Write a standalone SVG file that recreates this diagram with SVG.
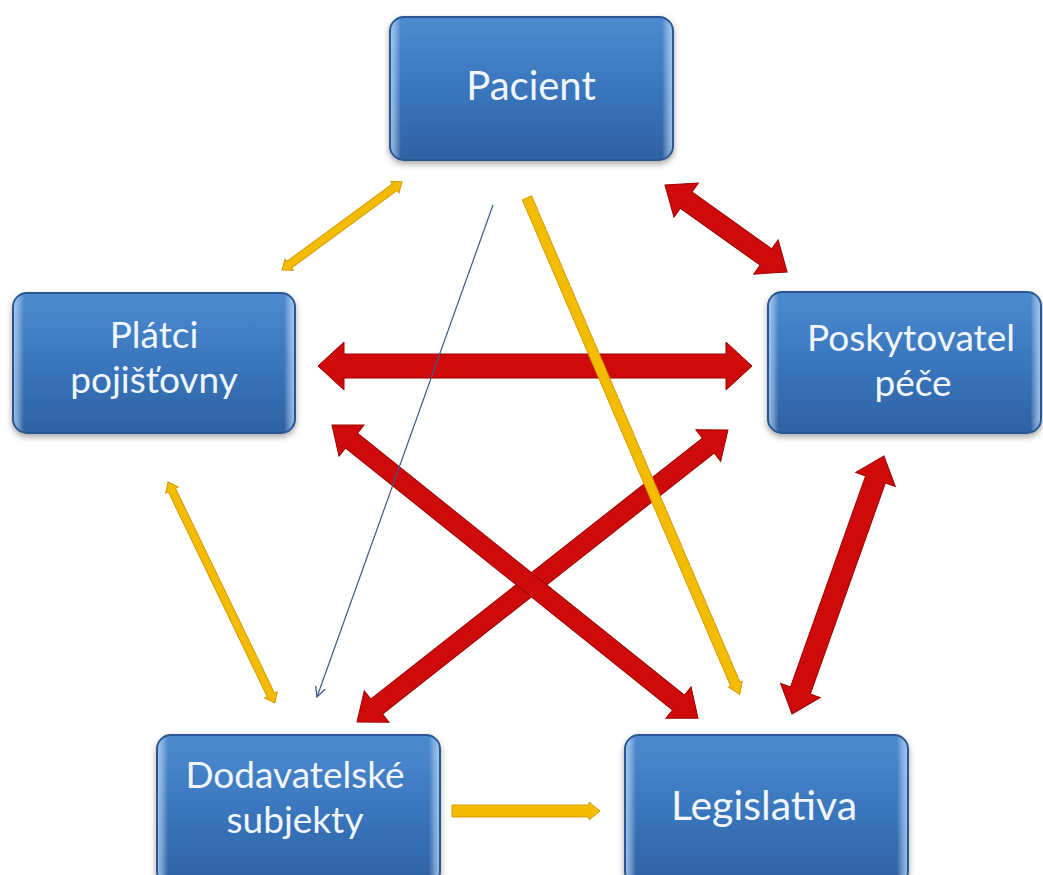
<svg xmlns="http://www.w3.org/2000/svg" width="1043" height="875" viewBox="0 0 1043 875">
<defs>
<linearGradient id="gBox" x1="0" y1="0" x2="0" y2="1">
<stop offset="0" stop-color="#4d8bcf"/>
<stop offset="0.5" stop-color="#3a76bd"/>
<stop offset="1" stop-color="#2e62a3"/>
</linearGradient>
<linearGradient id="gBevel" x1="0" y1="0" x2="1" y2="0">
<stop offset="0" stop-color="#bfe0ff" stop-opacity="0.7"/>
<stop offset="0.035" stop-color="#ffffff" stop-opacity="0"/>
<stop offset="0.965" stop-color="#ffffff" stop-opacity="0"/>
<stop offset="1" stop-color="#bfe0ff" stop-opacity="0.7"/>
</linearGradient>
<filter id="shadow" x="-10%" y="-10%" width="120%" height="130%">
<feDropShadow dx="0" dy="3" stdDeviation="3" flood-color="#000" flood-opacity="0.35"/>
</filter>
<marker id="blueHead" viewBox="0 0 12 12" refX="11" refY="6" markerWidth="12" markerHeight="12" markerUnits="userSpaceOnUse" orient="auto">
<path d="M1,1 L11,6 L1,11" fill="none" stroke="#3b5a88" stroke-width="1.3"/>
</marker>
</defs>
<style>
.box{fill:url(#gBox);stroke:#2a5791;stroke-width:2;filter:url(#shadow)}
.bev{fill:url(#gBevel);stroke:none}
.lbl{font-family:Lato,"Liberation Sans",sans-serif;font-size:40px;fill:#f1f6fc;text-anchor:middle}
.two{font-size:37px}
.red{fill:#cf0a0a;stroke:#9c0000;stroke-width:1}
.yel{fill:#f4bc00;stroke:#d49a00;stroke-width:1}
.blue{stroke:#3b5a88;stroke-width:1.2;fill:none}
</style>
<rect width="1043" height="875" fill="#ffffff"/>
<g id="connectors">
<path class="red" transform="translate(665,185) rotate(35.5)" d="M0,0 L26,-21 L26,-10 L124,-10 L124,-21 L150,0 L124,21 L124,10 L26,10 L26,21 Z"/>
<path class="yel" transform="translate(282,270) rotate(-36.3)" d="M0,0 L9,-7 L9,-4 L140,-4 L140,-7 L149,0 L140,7 L140,4 L9,4 L9,7 Z"/>
<path class="yel" transform="translate(168,482) rotate(64.2)" d="M0,0 L9,-7 L9,-4 L236.5,-4 L236.5,-7 L245.5,0 L236.5,7 L236.5,4 L9,4 L9,7 Z"/>
<path class="red" transform="translate(792,714) rotate(-70.4)" d="M0,0 L25,-21 L25,-10.5 L249,-10.5 L249,-21 L274,0 L249,21 L249,10.5 L25,10.5 L25,21 Z"/>
<path class="red" transform="translate(357,722) rotate(-38.2)" d="M0,0 L25,-20 L25,-9.5 L447,-9.5 L447,-20 L472,0 L447,20 L447,9.5 L25,9.5 L25,20 Z"/>
<path class="red" transform="translate(332,425) rotate(38.7)" d="M0,0 L25,-20 L25,-9.5 L444,-9.5 L444,-20 L469,0 L444,20 L444,9.5 L25,9.5 L25,20 Z"/>
<path class="red" transform="translate(318,366)" d="M0,0 L26,-24 L26,-12 L408,-12 L408,-24 L434,0 L408,24 L408,12 L26,12 L26,24 Z"/>
<line class="blue" x1="493" y1="205" x2="317" y2="697" marker-end="url(#blueHead)"/>
<path class="yel" transform="translate(527,198) rotate(66.8)" d="M0,-5 L529,-5 L529,-7.5 L540,0 L529,7.5 L529,5 L0,5 Z"/>
<path class="yel" transform="translate(452,811)" d="M0,-6 L137,-6 L137,-9 L148,0 L137,9 L137,6 L0,6 Z"/>
</g>
<g id="node-pacient">
<rect class="box" x="390" y="17" width="283" height="143" rx="14"/>
<rect class="bev" x="391" y="18" width="281" height="141" rx="13"/>
<text class="lbl" x="531" y="100">Pacient</text>
</g>
<g id="node-platci">
<rect class="box" x="13" y="293" width="282" height="140" rx="14"/>
<rect class="bev" x="14" y="294" width="280" height="138" rx="13"/>
<text class="lbl two" x="154" y="348">Plátci</text>
<text class="lbl two" x="154" y="393">pojišťovny</text>
</g>
<g id="node-poskytovatel">
<rect class="box" x="768" y="292" width="273" height="141" rx="14"/>
<rect class="bev" x="769" y="293" width="271" height="139" rx="13"/>
<text class="lbl two" x="911" y="351">Poskytovatel</text>
<text class="lbl two" x="913" y="396">péče</text>
</g>
<g id="node-dodavatelske">
<rect class="box" x="157" y="735" width="283" height="150" rx="14"/>
<rect class="bev" x="158" y="736" width="281" height="148" rx="13"/>
<text class="lbl two" x="295" y="788">Dodavatelské</text>
<text class="lbl two" x="295" y="833">subjekty</text>
</g>
<g id="node-legislativa">
<rect class="box" x="625" y="735" width="283" height="150" rx="14"/>
<rect class="bev" x="626" y="736" width="281" height="148" rx="13"/>
<text class="lbl" x="764" y="820" style="font-size:41px">Legislativa</text>
</g>
</svg>
